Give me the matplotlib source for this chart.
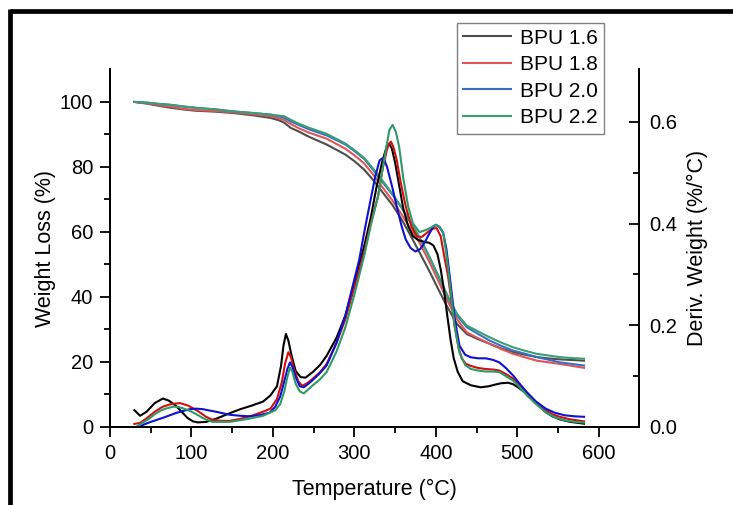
import matplotlib.pyplot as plt
from matplotlib.lines import Line2D

plt.rcParams['font.family'] = ['Liberation Sans', 'DejaVu Sans']

labels = ['BPU 1.6', 'BPU 1.8', 'BPU 2.0', 'BPU 2.2']

# TGA (weight loss, left axis)
tga_temp = [30, 45, 60, 75, 90, 105, 130, 151, 175, 197, 207, 214, 222, 231, 245,
            266, 289, 300, 312, 323, 335, 347, 358, 369, 380, 392, 403, 414, 426,
            438, 452, 466, 480, 495, 510, 524, 538, 552, 567, 582]
tga_16 = [100, 99.5, 98.8, 98.2, 97.7, 97.3, 97.0, 96.6, 95.9, 95.1, 94.4, 93.6,
          92.0, 91.0, 89.2, 86.9, 83.8, 81.8, 79.2, 76.0, 72.1, 68.2, 63.9, 58.9,
          53.7, 48.0, 42.4, 37.0, 31.7, 28.6, 27.0, 25.6, 24.2, 23.0, 22.2, 21.5,
          21.1, 20.8, 20.6, 20.4]
tga_18 = [100, 99.6, 99.0, 98.5, 97.9, 97.5, 97.2, 96.8, 96.2, 95.6, 95.0, 94.4,
          93.2, 92.0, 90.5, 88.7, 85.6, 83.6, 81.1, 77.7, 73.6, 69.6, 65.4, 61.0,
          56.7, 50.8, 45.0, 39.0, 33.2, 29.1, 27.3, 25.6, 24.0, 22.5, 21.4, 20.4,
          19.9, 19.4, 18.8, 18.2]
tga_20 = [100, 99.8, 99.4, 99.1, 98.6, 98.2, 97.7, 97.1, 96.6, 96.1, 95.6, 95.1,
          94.0, 93.0, 91.5, 89.7, 86.9, 84.9, 82.5, 79.1, 75.2, 71.4, 67.5, 62.9,
          58.3, 52.4, 46.5, 40.4, 34.3, 30.7, 28.6, 26.6, 25.0, 23.5, 22.5, 21.5,
          20.7, 19.9, 19.4, 18.9]
tga_22 = [100, 99.8, 99.4, 99.1, 98.6, 98.2, 97.7, 97.1, 96.6, 96.1, 95.8, 95.6,
          94.5, 93.4, 92.0, 90.2, 87.2, 85.2, 82.8, 79.5, 75.7, 71.6, 67.5, 62.9,
          58.3, 52.4, 46.5, 40.6, 34.8, 31.2, 29.4, 27.6, 26.0, 24.5, 23.4, 22.5,
          22.0, 21.5, 21.2, 21.0]

# DTG (derivative weight, right axis)
dtg_temp_16 = [30, 37, 45, 55, 65, 72, 80, 88, 95, 102, 108, 118, 130, 147, 160,
               174, 188, 197, 205, 210, 213, 216, 219, 223, 228, 234, 240, 249, 258,
               266, 278, 289, 300, 312, 320, 327, 334, 340, 343, 346, 350, 355, 360,
               366, 372, 379, 386, 392, 397, 402, 406, 410, 414, 418, 422, 427, 433,
               443, 455, 465, 472, 480, 489, 495, 501, 510, 518, 527, 535, 543, 552,
               565, 582]
dtg_16 = [0.033, 0.022, 0.030, 0.047, 0.056, 0.052, 0.043, 0.030, 0.018, 0.011,
          0.009, 0.010, 0.016, 0.027, 0.035, 0.042, 0.050, 0.062, 0.080, 0.120,
          0.160, 0.183, 0.170, 0.140, 0.110, 0.098, 0.097, 0.108, 0.122, 0.140,
          0.175, 0.219, 0.285, 0.355, 0.410, 0.470, 0.520, 0.553, 0.556, 0.548,
          0.520, 0.475, 0.430, 0.395, 0.375, 0.367, 0.364, 0.362, 0.357, 0.340,
          0.310, 0.270, 0.220, 0.173, 0.135, 0.108, 0.090, 0.082, 0.078, 0.080,
          0.083, 0.086, 0.087, 0.084, 0.078, 0.067, 0.055, 0.041, 0.029, 0.021,
          0.015, 0.010, 0.0065]
dtg_temp_18 = [30, 37, 45, 55, 65, 75, 86, 96, 104, 111, 118, 126, 137, 147, 160,
               174, 188, 197, 205, 211, 215, 219, 222, 226, 231, 236, 242, 249, 258,
               266, 278, 289, 300, 312, 320, 329, 335, 340, 343, 345, 348, 352, 357,
               363, 370, 377, 383, 390, 396, 401, 406, 411, 415, 419, 423, 428, 432,
               437, 443, 452, 461, 470, 478, 486, 495, 503, 512, 523, 535, 543, 552,
               565, 582]
dtg_18 = [0.006, 0.008, 0.017, 0.030, 0.040, 0.045, 0.047, 0.042, 0.035, 0.028,
          0.020, 0.014, 0.012, 0.012, 0.016, 0.022, 0.030, 0.036, 0.055, 0.088,
          0.125, 0.147, 0.138, 0.114, 0.090, 0.081, 0.086, 0.095, 0.108, 0.124,
          0.165, 0.212, 0.275, 0.342, 0.400, 0.453, 0.510, 0.545, 0.558, 0.561,
          0.550, 0.525, 0.480, 0.434, 0.395, 0.374, 0.374, 0.383, 0.390, 0.391,
          0.375, 0.330, 0.297, 0.250, 0.199, 0.155, 0.134, 0.124, 0.120, 0.116,
          0.114, 0.113, 0.111, 0.104, 0.095, 0.082, 0.065, 0.048, 0.033, 0.025,
          0.020, 0.015, 0.011]
dtg_temp_20 = [35, 42, 50, 65, 82, 98, 106, 114, 130, 147, 160, 171, 183, 196, 203,
               209, 214, 218, 221, 224, 228, 233, 238, 246, 256, 266, 278, 289, 300,
               306, 313, 320, 326, 331, 334, 337, 340, 346, 352, 358, 363, 369, 375,
               381, 386, 392, 397, 400, 404, 409, 413, 418, 423, 429, 436, 443, 452,
               461, 470, 478, 486, 495, 503, 512, 523, 535, 546, 558, 570, 582]
dtg_20 = [0.0, 0.005, 0.010, 0.018, 0.028, 0.035, 0.036, 0.035, 0.030, 0.024,
          0.022, 0.021, 0.023, 0.028, 0.040, 0.060, 0.090, 0.115, 0.127, 0.118,
          0.098, 0.080, 0.078, 0.088, 0.103, 0.121, 0.165, 0.219, 0.290, 0.329,
          0.390, 0.447, 0.495, 0.524, 0.528, 0.524, 0.512, 0.475, 0.434, 0.395,
          0.369, 0.352, 0.345, 0.350, 0.362, 0.380, 0.394, 0.397, 0.394, 0.382,
          0.350, 0.284, 0.215, 0.160, 0.142, 0.137, 0.135, 0.135, 0.132, 0.127,
          0.116, 0.101, 0.085, 0.068, 0.050, 0.036, 0.028, 0.023, 0.021, 0.020]
dtg_temp_22 = [32, 40, 48, 55, 62, 68, 78, 85, 91, 99, 106, 116, 126, 147, 170, 188,
               203, 209, 214, 218, 221, 224, 228, 233, 238, 249, 258, 266, 278, 289,
               300, 312, 320, 329, 336, 343, 347, 351, 355, 360, 366, 372, 380, 389,
               395, 400, 405, 409, 413, 418, 423, 429, 436, 443, 452, 461, 470, 478,
               486, 495, 503, 512, 523, 535, 546, 558, 570, 582]
dtg_22 = [0.0, 0.008, 0.016, 0.025, 0.032, 0.036, 0.040, 0.039, 0.036, 0.031,
          0.025, 0.016, 0.010, 0.010, 0.016, 0.022, 0.033, 0.045, 0.070, 0.100,
          0.117, 0.108, 0.085, 0.070, 0.066, 0.082, 0.094, 0.108, 0.148, 0.196,
          0.260, 0.336, 0.395, 0.453, 0.520, 0.584, 0.594, 0.580, 0.551, 0.490,
          0.434, 0.400, 0.383, 0.388, 0.393, 0.398, 0.393, 0.382, 0.340, 0.271,
          0.200, 0.147, 0.122, 0.114, 0.111, 0.109, 0.109, 0.108, 0.100, 0.091,
          0.078, 0.062, 0.045, 0.029, 0.019, 0.013, 0.010, 0.0085]

tga_colors = ['#4d4d4d', '#e05555', '#3a6fc4', '#3c9e72']
dtg_colors = ['#000000', '#d01010', '#1010d0', '#2f9a68']

fig = plt.figure(figsize=(7.33, 5.05), dpi=100)
ax = fig.add_axes([0.150, 0.1545, 0.7224, 0.708])
ax2 = ax.twinx()

tga_series = [tga_16, tga_18, tga_20, tga_22]
handles = []
for w, c, lab in zip(tga_series, tga_colors, labels):
    h, = ax.plot(tga_temp, w, color=c, lw=1.5, label=lab)
    handles.append(h)

dtg_series = [(dtg_temp_16, dtg_16), (dtg_temp_18, dtg_18),
              (dtg_temp_20, dtg_20), (dtg_temp_22, dtg_22)]
for (t, d), c in zip(dtg_series, dtg_colors):
    ax2.plot(t, d, color=c, lw=1.5)

ax.set_xlim(0, 650)
ax.set_ylim(0, 110)
ax2.set_ylim(0, 0.703)

ax.set_xticks([0, 100, 200, 300, 400, 500, 600])
ax.set_xticks(range(50, 650, 100), minor=True)
ax.set_yticks([0, 20, 40, 60, 80, 100])
ax.set_yticks([10, 30, 50, 70, 90], minor=True)
ax2.set_yticks([0.0, 0.2, 0.4, 0.6])
ax2.set_yticks([0.1, 0.3, 0.5], minor=True)
ax2.set_yticklabels(['0.0', '0.2', '0.4', '0.6'])

for a in (ax, ax2):
    a.spines['top'].set_visible(False)
    for s in a.spines.values():
        s.set_linewidth(1.3)

ax.tick_params(axis='both', which='major', direction='out', length=7, width=1.3,
               labelsize=14.5, pad=5)
ax.tick_params(axis='both', which='minor', direction='out', length=4, width=1.3)
ax2.tick_params(axis='y', which='major', direction='in', length=7, width=1.3,
                labelsize=14.5, pad=7)
ax2.tick_params(axis='y', which='minor', direction='in', length=4, width=1.3)

ax.set_xlabel('Temperature (°C)', fontsize=15.5, labelpad=12)
ax.set_ylabel('Weight Loss (%)', fontsize=15.5, labelpad=3)
ax2.set_ylabel('Deriv. Weight (%/°C)', fontsize=15.5, labelpad=7)

fig.legend(handles=handles, loc='upper left',
           bbox_to_anchor=(457 / 733, 1 - 22.5 / 505), fontsize=15,
           frameon=True, fancybox=False, edgecolor='#808080', framealpha=1,
           borderpad=0.3, labelspacing=0.36, handlelength=2.3,
           handletextpad=0.4, borderaxespad=0)

# thick black frame along top and left edges
fig.add_artist(Line2D([10 / 733, 1], [1 - 11 / 505, 1 - 11 / 505],
                      transform=fig.transFigure, color='black', lw=3.4,
                      solid_capstyle='butt'))
fig.add_artist(Line2D([10 / 733, 10 / 733], [0, 1 - 9 / 505],
                      transform=fig.transFigure, color='black', lw=3.4,
                      solid_capstyle='butt'))

fig.savefig('out.png', dpi=100)
